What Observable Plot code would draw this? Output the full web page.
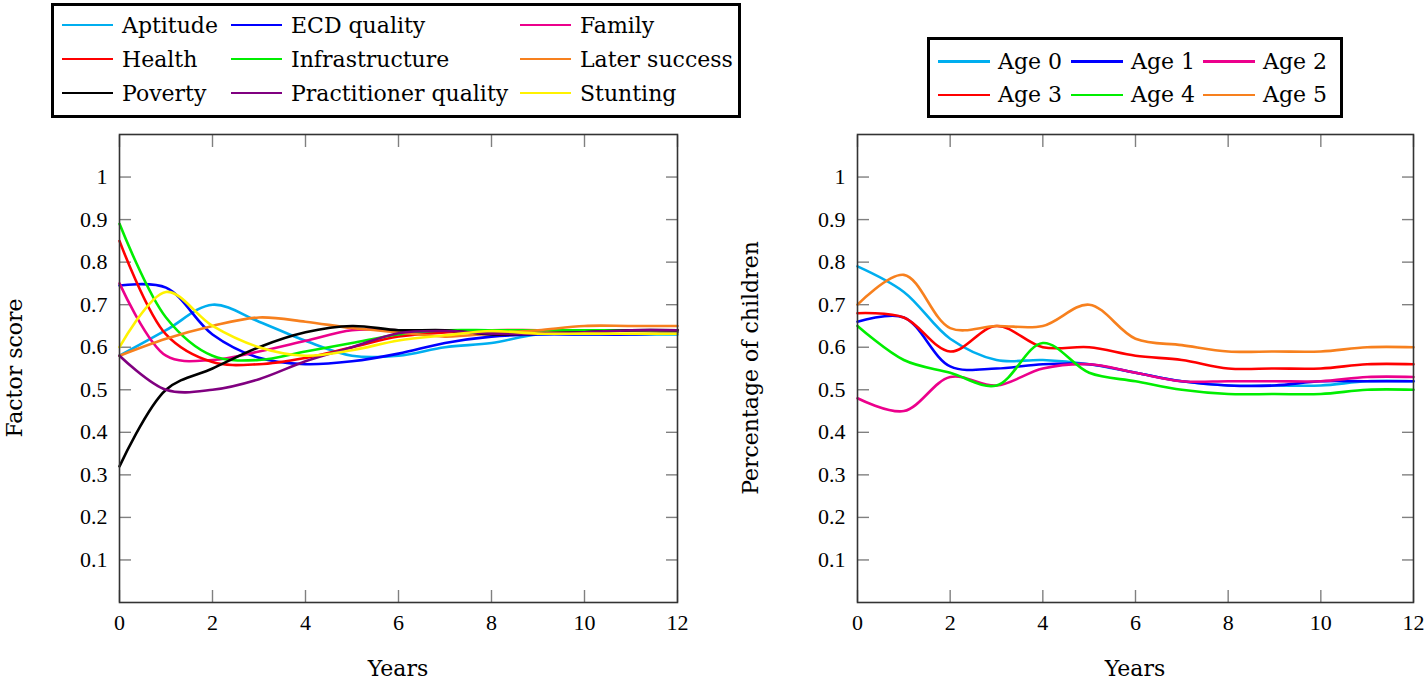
<!DOCTYPE html>
<html>
<head>
<meta charset="utf-8">
<script src="https://cdn.jsdelivr.net/npm/d3@7"></script>
<script src="https://cdn.jsdelivr.net/npm/@observablehq/plot@0.6"></script>
<style>
  html, body { margin: 0; padding: 0; background: #fff; }
  body { width: 1428px; height: 680px; position: relative; overflow: hidden; font-family: "DejaVu Serif", serif; color: #000; }
  .legend { position: absolute; border: 3px solid #000; box-sizing: border-box; display: grid; font-size: 22px; background: #fff; }
  .item { display: flex; align-items: center; white-space: nowrap; }
  .swatch { display: inline-block; height: 2.6px; }
  .title { position: absolute; font-size: 22px; white-space: nowrap; transform: translate(-50%, -50%); }
  .ytitle { transform: translate(-50%, -50%) rotate(-90deg); }
</style>
</head>
<body>
<script>
// ---------- data ----------
const years = [0, 1, 2, 3, 4, 5, 6, 7, 8, 9, 10, 11, 12];
const xTicks = [0, 2, 4, 6, 8, 10, 12];
const yTicks = [0.1, 0.2, 0.3, 0.4, 0.5, 0.6, 0.7, 0.8, 0.9, 1];
const yTickLabels = ["0.1", "0.2", "0.3", "0.4", "0.5", "0.6", "0.7", "0.8", "0.9", "1"];

// Left panel: factor scores
const factorNames = ["Aptitude", "ECD quality", "Family", "Health", "Infrastructure", "Later success", "Poverty", "Practitioner quality", "Stunting"];
const factorColors = ["#00aeef", "#0000ff", "#ec008c", "#ff0000", "#00ee00", "#f7801e", "#000000", "#800080", "#fff200"];
const aptitude       = [0.58, 0.64, 0.70, 0.66, 0.615, 0.58, 0.58, 0.60, 0.61, 0.63, 0.63, 0.63, 0.63];
const ecdQuality     = [0.745, 0.74, 0.63, 0.575, 0.56, 0.567, 0.585, 0.61, 0.625, 0.63, 0.63, 0.63, 0.635];
const family         = [0.75, 0.58, 0.57, 0.59, 0.615, 0.64, 0.64, 0.64, 0.64, 0.64, 0.64, 0.64, 0.64];
const health         = [0.85, 0.63, 0.565, 0.56, 0.575, 0.60, 0.625, 0.635, 0.64, 0.64, 0.64, 0.64, 0.64];
const infrastructure = [0.89, 0.67, 0.58, 0.57, 0.59, 0.61, 0.63, 0.64, 0.64, 0.64, 0.64, 0.64, 0.64];
const laterSuccess   = [0.58, 0.62, 0.65, 0.67, 0.66, 0.645, 0.635, 0.625, 0.632, 0.64, 0.65, 0.65, 0.65];
const poverty        = [0.32, 0.50, 0.55, 0.60, 0.635, 0.65, 0.64, 0.64, 0.63, 0.632, 0.635, 0.64, 0.64];
const practitioner   = [0.58, 0.50, 0.50, 0.525, 0.567, 0.60, 0.633, 0.638, 0.632, 0.632, 0.635, 0.64, 0.64];
const stunting       = [0.60, 0.73, 0.65, 0.60, 0.58, 0.593, 0.616, 0.628, 0.638, 0.632, 0.632, 0.632, 0.632];
const factorSeries = [aptitude, ecdQuality, family, health, infrastructure, laterSuccess, poverty, practitioner, stunting];

// Right panel: percentage of children by age
const ageNames = ["Age 0", "Age 1", "Age 2", "Age 3", "Age 4", "Age 5"];
const ageColors = ["#00aeef", "#0000ff", "#ec008c", "#ff0000", "#00ee00", "#f7801e"];
const age0 = [0.79, 0.73, 0.62, 0.57, 0.57, 0.56, 0.54, 0.52, 0.51, 0.51, 0.51, 0.52, 0.52];
const age1 = [0.66, 0.67, 0.555, 0.55, 0.56, 0.56, 0.54, 0.52, 0.51, 0.51, 0.52, 0.52, 0.52];
const age2 = [0.48, 0.45, 0.53, 0.51, 0.55, 0.56, 0.54, 0.52, 0.52, 0.52, 0.52, 0.53, 0.53];
const age3 = [0.68, 0.67, 0.59, 0.65, 0.60, 0.60, 0.58, 0.57, 0.55, 0.55, 0.55, 0.56, 0.56];
const age4 = [0.65, 0.57, 0.54, 0.51, 0.61, 0.54, 0.52, 0.50, 0.49, 0.49, 0.49, 0.50, 0.50];
const age5 = [0.70, 0.77, 0.645, 0.65, 0.65, 0.70, 0.62, 0.605, 0.59, 0.59, 0.59, 0.60, 0.60];
const ageSeries = [age0, age1, age2, age3, age4, age5];

// ---------- drawing ----------
const tickFont = {fontFamily: "Liberation Serif, serif", fontSize: 22};
const yLabel = (d) => yTickLabels[yTicks.indexOf(d)];

function panel(names, colors, series, m) {
  const data = names.flatMap((n, i) => years.map((x, j) => ({series: n, x, y: series[i][j]})));
  const tick = {tickSize: -12, stroke: "#808080", strokeWidth: 1.4, fill: "none", label: null};
  return Plot.plot({
    width: m.width, height: m.height,
    marginLeft: m.left, marginRight: m.right, marginTop: m.top, marginBottom: m.bottom,
    style: {fontFamily: "Liberation Serif, serif", fontSize: "22px", background: "transparent", overflow: "visible", color: "#000"},
    x: {domain: [0, 12]},
    y: {domain: [0, 1.1]},
    color: {domain: names, range: colors},
    marks: [
      Plot.axisX(xTicks, {anchor: "bottom", ...tick}),
      Plot.axisX(xTicks, {anchor: "top", ...tick}),
      Plot.axisY(yTicks, {anchor: "left", ...tick}),
      Plot.axisY(yTicks, {anchor: "right", ...tick}),
      Plot.axisX(xTicks, {anchor: "bottom", tickSize: 0, tickPadding: 12, fill: "#000", label: null, tickFormat: (d) => `${d}`, ...tickFont}),
      Plot.axisY(yTicks, {anchor: "left", tickSize: 0, tickPadding: 12, fill: "#000", label: null, tickFormat: yLabel, ...tickFont}),
      Plot.line(data, {x: "x", y: "y", z: "series", stroke: "series", strokeWidth: 2.6, curve: "catmull-rom"}),
      Plot.frame({stroke: "#333", strokeWidth: 1.6})
    ]
  });
}

function place(el, left, top) {
  el.style.position = "absolute";
  el.style.left = left + "px";
  el.style.top = top + "px";
  document.body.appendChild(el);
}

const left = panel(factorNames, factorColors, factorSeries, {width: 720, height: 560, left: 119, right: 43, top: 14, bottom: 78});
place(left, 0, 120);
const right = panel(ageNames, ageColors, ageSeries, {width: 698, height: 560, left: 127, right: 15, top: 14, bottom: 78});
place(right, 730, 120);

function legend(names, colors, box) {
  const div = document.createElement("div");
  div.className = "legend";
  div.style.left = box.left + "px";
  div.style.top = box.top + "px";
  div.style.width = box.width + "px";
  div.style.height = box.height + "px";
  div.style.paddingLeft = box.padLeft + "px";
  div.style.paddingTop = box.padTop + "px";
  div.style.gridTemplateColumns = box.cols;
  div.style.gridAutoRows = box.row + "px";
  names.forEach((n, i) => {
    const it = document.createElement("div");
    it.className = "item";
    const sw = document.createElement("span");
    sw.className = "swatch";
    sw.style.width = box.swatch + "px";
    sw.style.background = colors[i];
    sw.style.marginRight = box.gap + "px";
    const tx = document.createElement("span");
    tx.textContent = n;
    it.appendChild(sw);
    it.appendChild(tx);
    div.appendChild(it);
  });
  document.body.appendChild(div);
}

legend(factorNames, factorColors, {left: 51, top: 3, width: 690, height: 115, padLeft: 8, padTop: 2, cols: "169px 289px auto", row: 34, swatch: 51, gap: 9});
legend(ageNames, ageColors, {left: 927, top: 37, width: 416, height: 81, padLeft: 8, padTop: 5, cols: "133px 132px auto", row: 33.3, swatch: 52, gap: 8});

function title(text, x, y, rotate) {
  const d = document.createElement("div");
  d.className = "title" + (rotate ? " ytitle" : "");
  d.textContent = text;
  d.style.left = x + "px";
  d.style.top = y + "px";
  document.body.appendChild(d);
}
title("Factor score", 14, 368, true);
title("Percentage of children", 750, 368, true);
title("Years", 398, 668, false);
title("Years", 1135, 668, false);
</script>
</body>
</html>
